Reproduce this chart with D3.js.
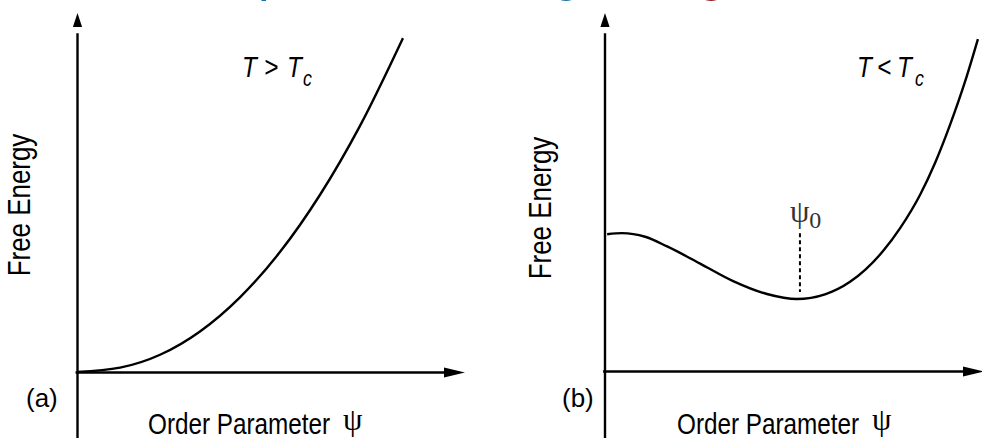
<!DOCTYPE html>
<html><head><meta charset="utf-8">
<script src="https://cdn.jsdelivr.net/npm/d3@7"></script>
<style>
html,body{margin:0;padding:0;background:#fff;}
svg{display:block;}
.lbl{font-family:"Liberation Sans",Arial,sans-serif;fill:#000;}
.psi{font-family:"Liberation Serif","Times New Roman",serif;}
</style>
</head><body>
<svg id="chart" width="982" height="438"></svg>
<script>
// ---- data ----
// Panel (a): T > Tc, free energy vs order parameter (arbitrary units 0..10)
const orderA = [0, 1.11, 2.14, 3.17, 4.20, 5.23, 6.26, 7.29, 8.40];
const energyA = [0, 0.12, 0.48, 1.13, 2.08, 3.34, 4.93, 6.85, 9.30];
// Panel (b): T < Tc
const orderB = [0.07, 0.46, 1.07, 1.65, 2.52, 3.39, 4.28, 5.07, 5.81, 6.47, 7.34, 7.79, 8.32, 8.71, 9.10, 9.50, 9.84];
const energyB = [3.82, 3.85, 3.75, 3.48, 3.00, 2.51, 2.15, 2.01, 2.14, 2.49, 3.35, 3.99, 4.93, 5.81, 6.86, 8.08, 9.27];
// minimum marker psi_0
const psi0 = [5.15];
const psi0Range = [2.21, 3.85];
const panelLabels = ["(a)", "(b)"];
const tempLabels = [["T", ">", "T", "c"], ["T", "<", "T", "c"]];
const xLabel = "Order Parameter";
const yLabel = "Free Energy";
const titleBits = [["p", "#1a72a6"], ["g", "#1a72a6"], ["g", "#8e1b1b"]];

const svg = d3.select("#chart");
svg.append("rect").attr("width", 982).attr("height", 438).attr("fill", "#fff");

// cut-off title fragments at the very top
const titleX = [258, 552, 697];
titleBits.forEach((t, i) => {
  svg.append("text").attr("x", titleX[i]).attr("y", -10)
    .attr("font-family", "Liberation Sans, Arial, sans-serif")
    .attr("font-size", 52).attr("fill", t[1]).text(t[0]);
});

const SX = 0.81; // horizontal condensation to mimic a narrow sans face
function narrow(g, x, y, str, size, opts = {}) {
  const rot = opts.rotate || 0;
  const t = g.append("text").attr("class", "lbl")
    .attr("transform", `translate(${x},${y}) rotate(${rot}) scale(${SX},1)`)
    .attr("font-size", size).text(str);
  if (opts.anchor) t.attr("text-anchor", opts.anchor);
  if (opts.italic) t.attr("font-style", "italic");
  return t;
}

const panels = [
  {x: d3.scaleLinear().domain([0, 10]).range([77, 465]),
   y: d3.scaleLinear().domain([0, 10]).range([372, 13]),
   xs: orderA, ys: energyA, lab: panelLabels[0], temp: tempLabels[0],
   labX: 26, xlabX: 148, psiX: 343, tempPos: [242, 264, 287, 303], yl: 30, yc: 205},
  {x: d3.scaleLinear().domain([0, 10]).range([604.5, 984]),
   y: d3.scaleLinear().domain([0, 10]).range([371, 13]),
   xs: orderB, ys: energyB, lab: panelLabels[1], temp: tempLabels[1],
   labX: 562, xlabX: 677, psiX: 872, tempPos: [857, 877, 897, 915], yl: 551, yc: 208}
];

panels.forEach((p, pi) => {
  const g = svg.append("g");
  // y axis line (extends below the x axis to the bottom)
  const yLine = p.y.copy().domain([-2, 9.45]).range([p.y(-2), p.y(9.45)]);
  g.append("g").attr("transform", `translate(${p.x(0)},0)`)
    .call(d3.axisLeft(yLine).tickValues([]).tickSizeOuter(0))
    .call(s => s.select(".domain").attr("stroke", "#000").attr("stroke-width", 2.4));
  // x axis line
  const xLine = p.x.copy().domain([-0.05, 9.5]).range([p.x(-0.05), p.x(9.5)]);
  g.append("g").attr("transform", `translate(0,${p.y(0)})`)
    .call(d3.axisBottom(xLine).tickValues([]).tickSizeOuter(0))
    .call(s => s.select(".domain").attr("stroke", "#000").attr("stroke-width", 2.4));
  // arrow heads
  const tx = p.x(0) + 0.5, ty = p.y(10);
  g.append("path").attr("d", `M${tx},${ty}L${tx - 4.6},${ty + 14}L${tx + 4.6},${ty + 14}Z`).attr("fill", "#000");
  const hx = p.x(10), hy = p.y(0) + 0.5;
  g.append("path").attr("d", `M${hx},${hy}L${hx - 21},${hy - 5}L${hx - 21},${hy + 5}Z`).attr("fill", "#000");

  // curve
  const pts = p.xs.map((v, i) => [v, p.ys[i]]);
  g.append("path").datum(pts)
    .attr("d", d3.line().x(d => p.x(d[0])).y(d => p.y(d[1])).curve(d3.curveMonotoneX))
    .attr("fill", "none").attr("stroke", "#000").attr("stroke-width", 2.4);

  // labels
  g.append("text").attr("class", "lbl").attr("x", p.labX).attr("y", 407)
    .attr("font-size", 26).text(p.lab);
  narrow(g, p.xlabX, 434, xLabel, 30);
  g.append("text").attr("class", "psi").attr("x", p.psiX).attr("y", 430)
    .attr("font-size", 31).text("ψ");
  narrow(g, p.yl, p.yc, yLabel, 32, {rotate: -90, anchor: "middle"});
  const tp = p.tempPos;
  narrow(g, tp[0], 77, p.temp[0], 30, {italic: true});
  narrow(g, tp[1], 77, p.temp[1], 30, {italic: true});
  narrow(g, tp[2], 77, p.temp[2], 30, {italic: true});
  narrow(g, tp[3], 86, p.temp[3], 22, {italic: true});

  if (pi === 1) {
    g.append("line")
      .attr("x1", p.x(psi0[0])).attr("x2", p.x(psi0[0]))
      .attr("y1", p.y(psi0Range[1])).attr("y2", p.y(psi0Range[0]))
      .attr("stroke", "#000").attr("stroke-width", 2).attr("stroke-dasharray", "4,3");
    const lt = g.append("text").attr("class", "psi").attr("x", p.x(psi0[0]) - 10).attr("y", 222)
      .attr("font-size", 31).attr("fill", "#333");
    lt.append("tspan").text("ψ");
    lt.append("tspan").attr("dy", 6).attr("font-size", 24).text("0");
  }
});
</script>
</body></html>
